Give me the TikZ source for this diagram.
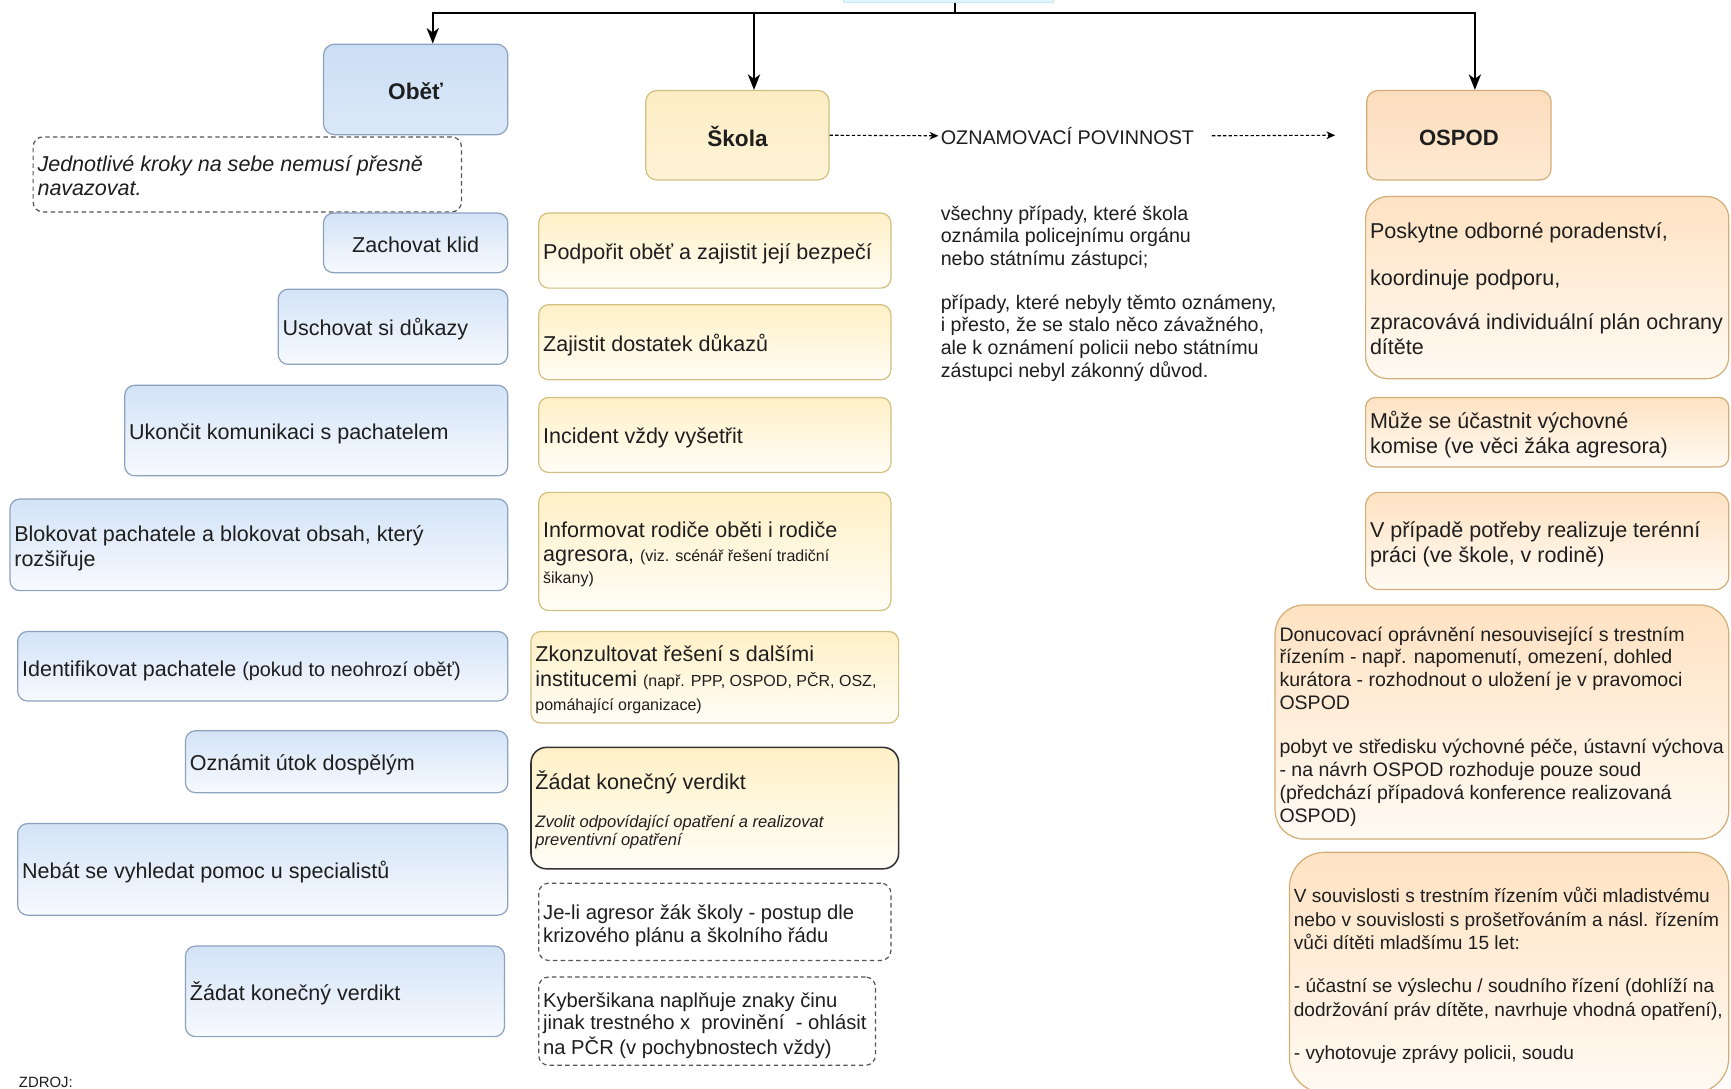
\documentclass[tikz,border=0pt]{standalone}
\usepackage{fontspec}
\setmainfont{Liberation Sans}
\usetikzlibrary{arrows.meta}
\definecolor{blueT}{HTML}{D3E3F7}
\definecolor{blueB}{HTML}{F7FAFE}
\definecolor{bluebd}{HTML}{8DA2BF}
\definecolor{obetT}{HTML}{CCDEF5}
\definecolor{obetB}{HTML}{DBE8F8}
\definecolor{ylwT}{HTML}{FFF0C6}
\definecolor{ylwB}{HTML}{FFFDF6}
\definecolor{ylwbd}{HTML}{D2C080}
\definecolor{skolaT}{HTML}{FDEDC4}
\definecolor{skolaB}{HTML}{FEF3D6}
\definecolor{orgT}{HTML}{FFE2C2}
\definecolor{orgB}{HTML}{FFFAF3}
\definecolor{orgbd}{HTML}{D3AE78}
\definecolor{ospodT}{HTML}{FDDDBD}
\definecolor{ospodB}{HTML}{FEE9D3}
\definecolor{dashc}{HTML}{555555}
\definecolor{txt}{HTML}{1E1E1E}
\definecolor{cyanF}{HTML}{E3F5FC}
\definecolor{cyanbd}{HTML}{C6E9F7}
\newcommand\fsz[2]{\fontsize{#1}{#2}\selectfont}
\newcommand\boxlines[3][3.5pt]{\raisebox{-#1}[\height][\depth]{\makebox[#2][l]{\begin{tabular}{@{}l@{}}#3\end{tabular}}}}
\begin{document}
\begin{tikzpicture}[x=1pt,y=-1pt,
  sz/.style 2 args={minimum width=#1pt, minimum height=#2pt},
  base/.style={rounded corners=9pt, line width=1.1pt, inner xsep=4pt, inner ysep=0pt, text=txt},
  bluebox/.style={base, draw=bluebd, top color=blueT, bottom color=blueB, font=\fsz{19.5}{22.5}},
  obetbox/.style={base, rounded corners=10pt, draw=bluebd, top color=obetT, bottom color=obetB, font=\bfseries\fsz{20.5}{23}},
  ylwbox/.style={base, draw=ylwbd, top color=ylwT, bottom color=ylwB, font=\fsz{19.5}{22.5}},
  skolabox/.style={base, rounded corners=10pt, draw=ylwbd, top color=skolaT, bottom color=skolaB, font=\bfseries\fsz{20.5}{23}},
  orgbox/.style={base, draw=orgbd, top color=orgT, bottom color=orgB, font=\fsz{19.5}{22.8}},
  ospodbox/.style={base, rounded corners=10pt, draw=orgbd, top color=ospodT, bottom color=ospodB, font=\bfseries\fsz{20}{23}},
  dashbox/.style={base, draw=dashc, dash pattern=on 4pt off 3pt, fill=white},
  conn/.style={line width=2.2pt, draw=black, -{Stealth[length=14pt,width=11pt,inset=4pt]}},
  dconn/.style={line width=1pt, draw=black, dash pattern=on 3pt off 2pt, -{Stealth[length=8pt,width=7pt,inset=2.5pt]}},
  plain/.style={inner sep=0pt, text=txt}
]
\useasboundingbox (0,0) rectangle (1568,986);
\fill[white] (0,0) rectangle (1568,986);

% source box (cut off at the top)
\node[draw=cyanbd, fill=cyanF, line width=1pt, minimum width=190pt, minimum height=60pt, inner sep=0pt] (srcbox) at (859,-27.5) {};
\coordinate (src) at ([xshift=6pt]srcbox.south);
\coordinate (hub) at (865,12);

% ---------------- left column: Obet ----------------
\node[obetbox, sz={167}{82}] (obet) at (376.5,81) {\raisebox{-1.5pt}[\height][\depth]{Oběť}};
\node[dashbox, sz={388}{68}, font=\itshape\fsz{19.5}{22}] (note) at (224,158)
  {\boxlines{380pt}{Jednotlivé kroky na sebe nemusí přesně\\navazovat.}};
\node[bluebox, sz={167}{54}] (zk) at (376.5,220) {\raisebox{-1.5pt}[\height][\depth]{Zachovat klid}};
\node[bluebox, sz={208}{68}] (ud) at (356,296) {\boxlines{200pt}{Uschovat si důkazy}};
\node[bluebox, sz={347}{82}] (uk) at (286.5,390) {\boxlines{339pt}{Ukončit komunikaci s pachatelem}};
\node[bluebox, sz={451}{83}] (bp) at (234.5,493.5) {\boxlines{443pt}{Blokovat pachatele a blokovat obsah, který\\rozšiřuje}};
\node[bluebox, sz={444}{63}] (ip) at (238,603.5) {\boxlines[4.5pt]{436pt}{Identifikovat pachatele {\fsz{18}{20}(pokud to neohrozí oběť)}}};
\node[bluebox, sz={292}{56}] (ou) at (314,690) {\boxlines{284pt}{Oznámit útok dospělým}};
\node[bluebox, sz={444}{83}] (nb) at (238,787.5) {\boxlines{436pt}{Nebát se vyhledat pomoc u specialistů}};
\node[bluebox, sz={289}{82}] (zv) at (312.5,898) {\boxlines{281pt}{Žádat konečný verdikt}};
\node[plain, anchor=west, font=\fsz{13.5}{15}] (zdroj) at (17,980) {ZDROJ:};

% ---------------- middle column: Skola ----------------
\node[skolabox, sz={166}{81}] (skola) at (668,122.5) {\raisebox{-1.5pt}[\height][\depth]{Škola}};
\node[ylwbox, sz={319}{68}] (s1) at (647.5,227) {\boxlines{311pt}{Podpořit oběť a zajistit její bezpečí}};
\node[ylwbox, sz={319}{68}] (s2) at (647.5,310) {\boxlines{311pt}{Zajistit dostatek důkazů}};
\node[ylwbox, sz={319}{68}] (s3) at (647.5,394) {\boxlines{311pt}{Incident vždy vyšetřit}};
\node[ylwbox, sz={319}{107}] (s4) at (647.5,499.5) {\boxlines{311pt}{Informovat rodiče oběti i rodiče\\agresora, {\fsz{14.5}{17}(viz. scénář řešení tradiční}\\[-3pt]{\fsz{14.5}{17}šikany)}}};
\node[ylwbox, sz={333}{83}] (s5) at (647.5,613.5) {\boxlines{325pt}{Zkonzultovat řešení s dalšími\\institucemi {\fsz{14.5}{17}(např. PPP, OSPOD, PČR, OSZ,}\\{\fsz{14.5}{17}pomáhající organizace)}}};
\node[ylwbox, rounded corners=14pt, draw=black!80, line width=1.4pt, sz={333}{110}, font=\itshape\fsz{15}{17}] (s6) at (647.5,732)
  {\boxlines[2.5pt]{325pt}{{\upshape\fsz{19.5}{22.5}Žádat konečný verdikt}\\[17.5pt]Zvolit odpovídající opatření a realizovat\\preventivní opatření}};
\node[dashbox, sz={319}{70}, font=\fsz{18.3}{20.5}] (s7) at (647.5,835) {\boxlines[4.5pt]{311pt}{Je-li agresor žák školy - postup dle\\krizového plánu a školního řádu}};
\node[dashbox, sz={305}{80}, font=\fsz{18.3}{20.5}] (s8) at (640.5,925) {\boxlines[4.5pt]{297pt}{Kyberšikana naplňuje znaky činu\\jinak trestného x\ \ provinění\ \ - ohlásit\\na PČR (v pochybnostech vždy)}};

% ---------------- oznamovaci povinnost ----------------
\node[plain, anchor=west, inner xsep=2pt, font=\fsz{17.9}{20}] (ozn) at (850,123) {OZNAMOVACÍ POVINNOST};
\node[plain, anchor=west, font=\fsz{17.8}{20.5}] (info) at (852,266.5) {\begin{tabular}{@{}l@{}}všechny případy, které škola\\oznámila policejnímu orgánu\\nebo státnímu zástupci;\\[19pt]případy, které nebyly těmto oznámeny,\\i přesto, že se stalo něco závažného,\\ale k oznámení policii nebo státnímu\\zástupci nebyl zákonný důvod.\end{tabular}};

% ---------------- right column: OSPOD ----------------
\node[ospodbox, sz={167}{81}] (ospod) at (1321.5,122.5) {\raisebox{-2pt}[\height][\depth]{OSPOD}};
\node[orgbox, rounded corners=20pt, sz={329}{165}] (o1) at (1401.5,260.5) {\boxlines[3.5pt]{321pt}{Poskytne odborné poradenství,\\[19.5pt]koordinuje podporu,\\[17.5pt]zpracovává individuální plán ochrany\\dítěte}};
\node[orgbox, sz={329}{63}] (o2) at (1401.5,391.5) {\boxlines{321pt}{Může se účastnit výchovné\\komise (ve věci žáka agresora)}};
\node[orgbox, rounded corners=12pt, sz={329}{88}] (o3) at (1401.5,490) {\boxlines{321pt}{V případě potřeby realizuje terénní\\práci (ve škole, v rodině)}};
\node[orgbox, rounded corners=26pt, sz={411}{212}, font=\fsz{17.7}{20.7}] (o4) at (1360.5,654) {\boxlines[4.5pt]{403pt}{Donucovací oprávnění nesouvisející s trestním\\řízením - např. napomenutí, omezení, dohled\\kurátora - rozhodnout o uložení je v pravomoci\\OSPOD\\[19pt]pobyt ve středisku výchovné péče, ústavní výchova\\- na návrh OSPOD rozhoduje pouze soud\\(předchází případová konference realizovaná\\OSPOD)}};
\node[orgbox, rounded corners=32pt, sz={398}{218}, font=\fsz{17.3}{21.3}] (o5) at (1367,881) {\boxlines{390pt}{V souvislosti s trestním řízením vůči mladistvému\\nebo v souvislosti s prošetřováním a násl. řízením\\vůči dítěti mladšímu 15 let:\\[18pt]- účastní se výslechu / soudního řízení (dohlíží na\\dodržování práv dítěte, navrhuje vhodná opatření),\\[18pt]- vyhotovuje zprávy policii, soudu}};

% ---------------- connectors ----------------
\draw[line width=2.2pt] (src) -- (hub);
\draw[conn] (hub) -| ([xshift=15.5pt]obet.north);
\draw[conn] (hub) -| ([xshift=15pt]skola.north);
\draw[conn] (hub) -| ([xshift=14.5pt]ospod.north);
\draw[dconn] (skola.east) -- (ozn.west);
\draw[dconn] ([xshift=14pt]ozn.east) -- ([xshift=-28pt]ospod.west);
\end{tikzpicture}
\end{document}
